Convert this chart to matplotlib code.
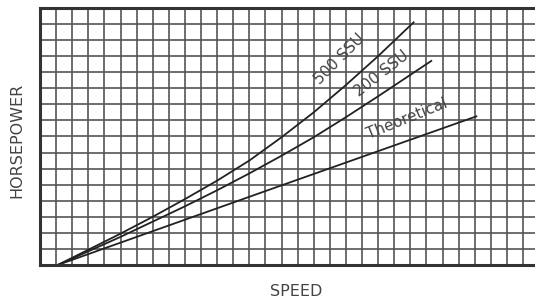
import matplotlib
matplotlib.use('Agg')
import matplotlib.pyplot as plt

# curves (grid cells)
speed_500 = [1.1, 3, 5, 7, 9, 11, 13, 15, 17, 19, 21, 23.2]
hp_500 = [0, 0.95, 1.95, 3.0, 4.1, 5.25, 6.5, 7.95, 9.5, 11.2, 13.0, 15.1]

speed_200 = [1.1, 3, 5, 7, 9, 11, 13, 15, 17, 19, 21, 22.5, 24.3]
hp_200 = [0, 0.85, 1.75, 2.7, 3.65, 4.65, 5.7, 6.8, 7.95, 9.2, 10.5, 11.5, 12.7]

speed_theo = [1.1, 14.0, 27.1]
hp_theo = [0, 4.6, 9.25]

line_color = '#222222'
text_color = '#444444'

fig = plt.figure(figsize=(5.35, 3.0), dpi=100)
ax = fig.add_axes([0.0748, 0.1167, 0.933, 0.857])

ax.set_xlim(0, 31)
ax.set_ylim(0, 16)
ax.set_xticks(range(0, 32))
ax.set_yticks(range(0, 17))
ax.grid(True, color='#555555', linewidth=1.2)
ax.tick_params(length=0, labelbottom=False, labelleft=False)

for side in ['left', 'top', 'bottom']:
    ax.spines[side].set_linewidth(2.2)
    ax.spines[side].set_color('#333333')
ax.spines['right'].set_visible(False)

ax.plot(speed_500, hp_500, color=line_color, linewidth=1.3)
ax.plot(speed_200, hp_200, color=line_color, linewidth=1.3)
ax.plot(speed_theo, hp_theo, color=line_color, linewidth=1.3)

ax.text(18.6, 12.8, '500 SSU', rotation=45, rotation_mode='anchor',
        ha='center', va='center', fontsize=11, color=text_color)
ax.text(21.2, 11.9, '200 SSU', rotation=38, rotation_mode='anchor',
        ha='center', va='center', fontsize=11, color=text_color)
ax.text(22.8, 9.1, 'Theoretical', rotation=22, rotation_mode='anchor',
        ha='center', va='center', fontsize=11, color=text_color)

fig.text(296 / 535, 1 - 291 / 300, 'SPEED', ha='center', va='center',
         fontsize=11.5, color=text_color)
fig.text(17 / 535, 1 - 140 / 300, 'HORSEPOWER', rotation=90, ha='center',
         va='center', fontsize=11.5, color=text_color)

fig.savefig('out.png', dpi=100)
